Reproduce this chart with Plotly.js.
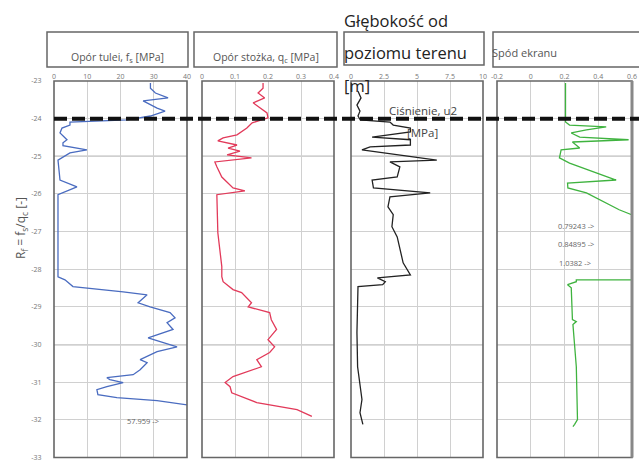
<!DOCTYPE html>
<html>
<head>
<meta charset="utf-8">
<script src="https://cdn.plot.ly/plotly-3.0.1.min.js"></script>
<style>html,body{margin:0;padding:0;background:#fff;}#chart{width:639px;height:461px;}</style>
</head>
<body>
<div id="chart"></div>
<script>
// ---- data (depth in m) ----
const fsDepth = [-23.05,-23.19,-23.32,-23.45,-23.53,-23.72,-23.80,-23.93,-24.03,-24.09,-24.17,-24.25,-24.38,-24.56,-24.64,-24.72,-24.83,-24.91,-25.10,-25.63,-25.81,-26.02,-27.0,-28.2,-28.28,-28.46,-28.60,-28.68,-28.89,-29.0,-29.15,-29.29,-29.42,-29.60,-29.82,-30.06,-30.19,-30.40,-30.48,-30.67,-30.80,-30.88,-30.93,-31.01,-31.12,-31.20,-31.33,-31.41,-31.49,-31.59,-31.83];
const fsValues = [29,29,30.5,34.3,26.8,31,33.4,29,22,4.8,4.8,2.4,1.8,3.9,2.7,2.7,9.9,4.8,1.2,1.8,6.9,1.2,1.2,1.2,3.3,5.7,20.8,28,25.3,28.9,34.9,36.4,34,35.8,28.3,37,31,25.9,28,25.9,23.8,15.9,16.8,20.8,15.9,12.9,13.2,18.9,31,38.8,57.959];

const qcDepth = [-23.05,-23.19,-23.32,-23.45,-23.58,-23.72,-23.85,-23.98,-24.11,-24.25,-24.43,-24.51,-24.59,-24.70,-24.78,-24.86,-24.96,-25.04,-25.15,-25.28,-25.55,-25.84,-25.92,-26.02,-27.03,-27.93,-28.20,-28.33,-28.41,-28.54,-28.62,-28.89,-29.0,-29.15,-29.34,-29.60,-29.87,-30.06,-30.21,-30.40,-30.59,-30.85,-31.01,-31.12,-31.28,-31.54,-31.73,-31.81,-31.91];
const qcValues = [0.185,0.185,0.17,0.19,0.155,0.176,0.197,0.2,0.152,0.136,0.106,0.064,0.048,0.106,0.079,0.115,0.076,0.15,0.039,0.045,0.06,0.094,0.13,0.045,0.048,0.06,0.06,0.064,0.076,0.094,0.12,0.15,0.14,0.205,0.21,0.226,0.2,0.22,0.205,0.166,0.18,0.094,0.07,0.085,0.09,0.166,0.288,0.306,0.333];

const u2Depth = [-23.27,-23.45,-23.64,-23.80,-23.93,-24.03,-24.09,-24.17,-24.25,-24.35,-24.49,-24.56,-24.70,-24.75,-24.83,-24.96,-25.10,-25.15,-25.28,-25.55,-25.63,-25.84,-25.97,-26.08,-26.34,-26.55,-26.87,-27.14,-27.48,-27.83,-28.15,-28.23,-28.33,-28.41,-28.46,-29.68,-30.59,-31.01,-31.46,-31.81,-32.12];
const u2Values = [0.53,0.76,0.45,0.68,0.53,0.7,2.95,3.2,4.5,4.5,1.6,4.5,4.5,1.45,0.83,3.5,6.5,2.95,3.7,3.5,1.6,1.7,6.0,2.95,2.8,3.2,3.1,3.5,3.7,3.95,4.5,2.0,2.6,2.4,0.53,0.45,0.5,0.68,0.83,0.68,0.9];

const spodDepth = [-23.05,-24.09,-24.17,-24.22,-24.30,-24.38,-24.49,-24.56,-24.62,-24.78,-24.83,-25.04,-25.18,-25.63,-25.71,-25.84,-25.97,-26.42,-26.9,-27.5,-28.28,-28.28,-28.33,-28.41,-28.49,-29.34,-29.39,-29.47,-30.59,-31.46,-31.99,-32.12,-32.18];
const spodValues = [0.206,0.206,0.23,0.447,0.33,0.24,0.29,0.58,0.247,0.29,0.18,0.17,0.23,0.506,0.218,0.22,0.33,0.524,0.79243,0.84895,1.0382,0.27,0.27,0.218,0.24,0.247,0.27,0.25,0.27,0.277,0.277,0.26,0.25];

const depthTicks = [-23,-24,-25,-26,-27,-28,-29,-30,-31,-32,-33];
const depthTickText = ["-23","-24","-25","-26","-27","-28","-29","-30","-31","-32","-33"];
const fsTicks = [0,10,20,30,40];
const qcTicks = [0,0.1,0.2,0.3,0.4];
const u2Ticks = [0,2.5,5,7.5,10];
const spodTicks = [-0.2,0,0.2,0.4,0.6];
const spodTickText = ["-0.2","0","0.2","0.4","0.6"];
const groundDepth = -24;
const darkGridDepths = [-25,-30];
const offScaleLabels = [
  {axis:'x',  x:26.8, y:-32.02, text:'57.959 -&gt;'},
  {axis:'x4', x:0.27, y:-26.85, text:'0.79243 -&gt;'},
  {axis:'x4', x:0.27, y:-27.33, text:'0.84895 -&gt;'},
  {axis:'x4', x:0.26, y:-27.83, text:'1.0382 -&gt;'}
];

// ---- layout helpers (pixels -> paper) ----
const W = 639, H = 461;
const px = v => v / W;
const py = v => 1 - v / H;
const FONT = 'Open Sans, DejaVu Sans, sans-serif';

const traces = [
  {x: fsValues, y: fsDepth, xaxis:'x', yaxis:'y', mode:'lines', line:{color:'#4a6cc0', width:1.3}},
  {x: qcValues, y: qcDepth, xaxis:'x2', yaxis:'y', mode:'lines', line:{color:'#e23a5a', width:1.3}},
  {x: u2Values, y: u2Depth, xaxis:'x3', yaxis:'y', mode:'lines', line:{color:'#222222', width:1.3}},
  {x: spodValues, y: spodDepth, xaxis:'x4', yaxis:'y', mode:'lines', line:{color:'#3fb33f', width:1.3}}
];

function xax(domain, range, ticks, text) {
  const a = {
    domain: domain, range: range, side: 'top', anchor: 'y',
    tickvals: ticks, showgrid: true, gridcolor: '#d0d0d0', gridwidth: 1,
    zeroline: false, showline: false,
    ticks: '', tickfont: {size: 7, color: '#777', family: FONT}, fixedrange: true
  };
  if (text) a.ticktext = text;
  return a;
}

const layout = {
  width: W, height: H,
  margin: {l:0, r:0, t:0, b:0},
  paper_bgcolor: '#fff', plot_bgcolor: '#fff',
  showlegend: false,
  font: {family: FONT},
  xaxis: xax([px(54), px(187)], [0, 40], fsTicks),
  xaxis2: xax([px(202), px(334)], [0, 0.4], qcTicks),
  xaxis3: xax([px(351), px(483)], [0, 10], u2Ticks),
  xaxis4: xax([px(497), px(632)], [-0.2, 0.6], spodTicks, spodTickText),
  yaxis: {
    domain: [py(457.5), py(81)], range: [-33, -23], anchor: 'x',
    tickvals: depthTicks, ticktext: depthTickText, ticklabeloverflow: 'allow',
    showgrid: true, gridcolor: '#d0d0d0', gridwidth: 1, zeroline: false,
    showline: false, ticks: 'outside', ticklen: 10, tickcolor: 'rgba(0,0,0,0)',
    tickfont: {size: 7, color: '#777', family: FONT}, fixedrange: true
  },
  shapes: [],
  annotations: []
};

// darker grid lines and panel frames
['x','x2','x3','x4'].forEach(ax => {
  darkGridDepths.forEach(d => {
    layout.shapes.push({type:'line', xref: ax + ' domain', x0:0, x1:1, yref:'y', y0:d, y1:d,
      line:{color:'#7a7a7a', width:1.3}, layer:'below'});
  });
  layout.shapes.push({type:'rect', xref: ax + ' domain', x0:0, x1:1, yref:'y domain', y0:0, y1:1,
    line:{color:'#666', width:1.6}, fillcolor:'rgba(0,0,0,0)', layer:'above'});
});
// thicker right edge of last panel
layout.shapes.push({type:'line', xref:'x4 domain', x0:1, x1:1, yref:'y domain', y0:0, y1:1,
  line:{color:'#888', width:3}, layer:'above'});

// dashed ground-level line
layout.shapes.push({type:'line', xref:'paper', x0:px(54), x1:1, yref:'y', y0:groundDepth, y1:groundDepth,
  line:{color:'#111', width:4, dash:'13px,5px'}, layer:'above'});

// title boxes
[[47,188,32,67],[194,337,32,67],[344,484,32,65],[493,645,32,67]].forEach(b => {
  layout.shapes.push({type:'rect', xref:'paper', yref:'paper', x0:px(b[0]), x1:px(b[1]), y0:py(b[3]), y1:py(b[2]),
    line:{color:'#666', width:1.5}, fillcolor:'rgba(0,0,0,0)'});
});

function ann(text, x, y, size, color, xanchor, extra) {
  return Object.assign({text: text, xref:'paper', yref:'paper', x: px(x), y: py(y),
    xanchor: xanchor || 'center', yanchor: 'middle', showarrow: false,
    font: {size: size, color: color, family: FONT}}, extra || {});
}

layout.annotations.push(ann('Opór tulei, f<sub>s</sub> [MPa]', 117, 58, 10.5, '#555'));
layout.annotations.push(ann('Opór stożka, q<sub>c</sub> [MPa]', 266, 58, 10.5, '#555'));
layout.annotations.push(ann('Głębokość od', 342, 20, 16.5, '#222', 'left'));
layout.annotations.push(ann('poziomu terenu', 342, 53, 16.5, '#222', 'left'));
layout.annotations.push(ann('[m]', 342, 85, 16.5, '#222', 'left'));
layout.annotations.push(ann('Spód ekranu', 490, 52, 11, '#555', 'left'));
layout.annotations.push(ann('Ciśnienie, u2', 423, 111, 11.5, '#444'));
layout.annotations.push(ann('[MPa]', 422, 132, 11.5, '#444'));
layout.annotations.push(ann('R<sub>f</sub> = f<sub>s</sub>/q<sub>c</sub> [-]', 21, 228, 12, '#555', 'center', {textangle:-90}));

offScaleLabels.forEach(o => {
  layout.annotations.push({text:o.text, xref:o.axis, yref:'y', x:o.x, y:o.y, showarrow:false,
    xanchor:'center', yanchor:'middle', font:{size:7.5, color:'#666', family:FONT}});
});

Plotly.newPlot('chart', traces, layout, {staticPlot:true, displayModeBar:false});
</script>
</body>
</html>
